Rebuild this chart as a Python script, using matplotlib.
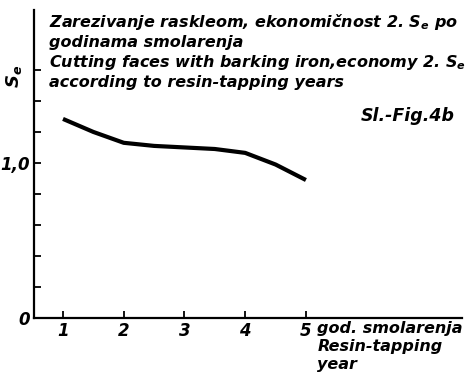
import matplotlib.pyplot as plt

plt.rcParams['font.family'] = 'DejaVu Sans'
plt.rcParams['mathtext.fontset'] = 'dejavusans'

# resin-tapping year vs. economy Se
years = [1, 1.5, 2, 2.5, 3, 3.5, 4, 4.5, 5]
se = [1.284, 1.20, 1.13, 1.11, 1.10, 1.09, 1.065, 0.99, 0.89]

y_ticks = [0, 0.2, 0.4, 0.6, 0.8, 1.0, 1.2, 1.4, 1.6]
y_labels = ['0', '', '', '', '', '1,0', '', '', '']
x_ticks = [1, 2, 3, 4, 5]

SE = r'$\mathbfit{S}_{\mathbfit{e}}$'
font = dict(fontstyle='italic', fontweight='bold')

fig = plt.figure(figsize=(4.7, 3.8), dpi=100)
ax = fig.add_axes([0.072, 0.163, 0.911, 0.811])

ax.plot(years, se, color='black', lw=3, solid_capstyle='butt')

ax.set_xlim(0.52, 7.57)
ax.set_ylim(0, 1.987)
ax.spines['top'].set_visible(False)
ax.spines['right'].set_visible(False)
ax.spines['left'].set_linewidth(1.6)
ax.spines['bottom'].set_linewidth(1.6)

ax.set_xticks(x_ticks)
ax.set_xticklabels([str(t) for t in x_ticks], fontsize=12, **font)
ax.set_yticks(y_ticks)
ax.set_yticklabels(y_labels, fontsize=12, **font)
ax.tick_params(direction='in', length=5, width=1.3, pad=3)

fig.text(0.03, 0.80, SE, rotation=90, fontsize=13, ha='center', va='center')

title = ['Zarezivanje raskleom, ekonomičnost 2. ' + SE + ' po',
         'godinama smolarenja',
         'Cutting faces with barking iron,economy 2. ' + SE,
         'according to resin-tapping years']
fig.text(0.105, 0.968, '\n'.join(title), fontsize=11.5, va='top', ha='left',
         linespacing=1.22, **font)
fig.text(0.968, 0.695, 'Sl.-Fig.4b', fontsize=12.5, ha='right', va='center',
         **font)

fig.text(0.675, 0.155, 'god. smolarenja\nResin-tapping\nyear', fontsize=11.5,
         ha='left', va='top', linespacing=1.25, **font)

fig.savefig('out.png', dpi=100, facecolor='white')
